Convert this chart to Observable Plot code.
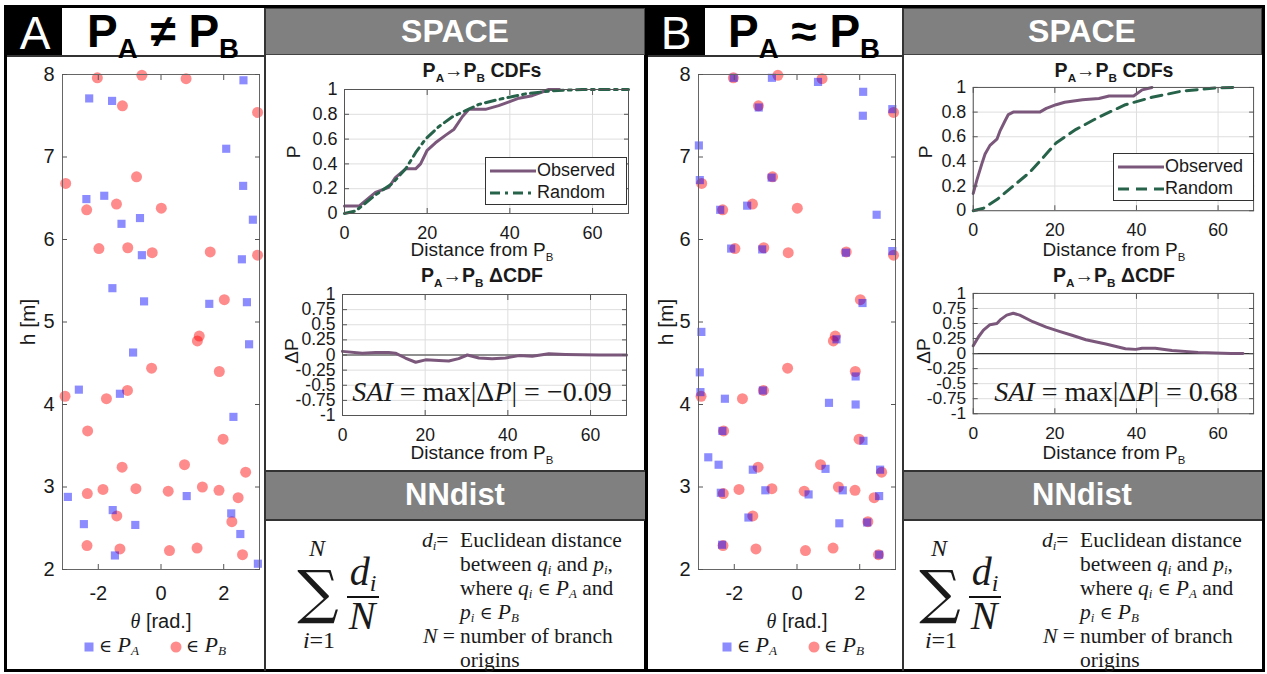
<!DOCTYPE html>
<html><head><meta charset="utf-8">
<script src="https://cdn.jsdelivr.net/npm/d3@7"></script>
<script src="https://cdn.jsdelivr.net/npm/@observablehq/plot@0.6"></script>
<style>
body{margin:0;background:#fff;}
#fig{position:relative;width:1267px;height:674px;overflow:hidden;background:#fff;font-family:"Liberation Sans",Arial,sans-serif;color:#1a1a1a;}
.t{position:absolute;transform:translate(-50%,-50%);white-space:nowrap;line-height:1;}
.l{position:absolute;transform:translate(0,-50%);white-space:nowrap;line-height:1;}
.box{position:absolute;box-sizing:border-box;}
.sb{font-size:0.6em;position:relative;top:0.4em;}
.si{font-size:0.6em;position:relative;top:0.25em;}
.el{font-family:"DejaVu Serif",serif;font-size:0.8em;font-style:normal;}
.serif{font-family:"Liberation Serif","DejaVu Serif",serif;}
.chart{position:absolute;}
.chart svg{overflow:visible;}
</style></head><body><div id="fig"></div>
<script>
// ---------- DATA ----------
// Panel A: P_A (blue squares)
const thetaA_PA = [-2.29,-1.56,2.63,2.08,2.62,-2.38,-1.81,-1.26,-0.67,2.93,-0.61,2.58,-1.55,-0.54,1.54,2.74,2.81,-0.89,-2.62,-1.31,2.31,-2.97,0.82,-1.54,-2.46,-0.82,2.24,2.53,-1.47,3.09];
const hA_PA = [7.71,7.68,7.93,7.10,6.65,6.49,6.53,6.19,6.26,6.24,5.81,5.76,5.41,5.25,5.22,5.24,4.73,4.63,4.18,4.13,3.85,2.88,2.89,2.72,2.55,2.54,2.68,2.43,2.17,2.07];
// P_B (red circles), same in both panels
const theta_PB = [-2.03,-0.61,0.80,-1.23,3.08,-3.04,-0.78,-2.37,-1.42,0.01,-1.98,-1.06,-0.28,1.57,3.08,2.02,1.22,1.16,-0.30,1.86,-3.06,-1.74,-1.07,-2.34,1.98,-1.24,0.75,2.70,-2.35,-1.85,-0.80,0.23,1.32,1.85,2.46,-1.41,2.26,-2.36,-1.31,0.27,1.15,2.60];
const h_PB = [7.96,7.99,7.95,7.62,7.54,6.68,6.76,6.36,6.43,6.38,5.89,5.90,5.84,5.85,5.81,5.27,4.83,4.77,4.44,4.40,4.10,4.07,4.17,3.68,3.58,3.24,3.27,3.18,2.92,2.97,2.98,2.95,3.00,2.96,2.87,2.65,2.58,2.29,2.25,2.23,2.26,2.18];
// Panel B: P_A (blue squares)
const thetaB_PA = [-2.02,-0.80,0.67,2.11,2.10,-1.22,3.04,-3.13,-3.10,-0.81,-2.45,-1.59,2.54,-2.10,-1.11,1.56,3.04,2.09,-3.05,1.26,-3.10,-3.08,-2.30,-1.09,1.02,1.87,1.87,-2.38,2.12,-2.83,-2.50,-1.41,0.91,2.65,-2.43,-1.01,0.37,1.46,2.62,-1.55,1.35,2.24,-2.39,2.62];
const hB_PA = [7.96,7.96,7.91,7.79,7.50,7.60,7.58,7.14,6.72,6.75,6.36,6.41,6.30,5.89,5.88,5.84,5.86,5.23,4.88,4.79,4.39,4.15,4.07,4.17,4.02,4.00,4.34,3.68,3.56,3.36,3.27,3.21,3.22,3.21,2.93,2.96,2.91,2.96,2.89,2.63,2.56,2.57,2.30,2.18];

// CDFs, panel A
const distA_obs = [0,3.5,7.5,10.7,12.3,14.8,17.2,18.4,20,22,24.4,26.5,28.5,30.1,34.1,37.3,39.8,42.2,45.4,47.8,49.4,52];
const cdfA_obs  = [0.06,0.06,0.17,0.21,0.29,0.36,0.36,0.40,0.51,0.57,0.63,0.68,0.78,0.84,0.84,0.87,0.90,0.93,0.95,0.98,1.0,1.0];
const distA_rnd = [0,2.7,7.5,11.5,14.8,17.2,19.6,22.8,26.1,29.3,32.5,37.3,43.8,50.3,57.5,68.7];
const cdfA_rnd  = [0,0.02,0.15,0.24,0.36,0.49,0.60,0.70,0.78,0.83,0.88,0.92,0.965,0.99,1,1];
const distA_d   = [0,4.8,8,11.2,12.8,15.2,17.7,20.1,23.3,25.7,28.1,30.2,33,36.2,39.4,42.7,45.9,49.9,53.9,62,68.7];
const dcdfA     = [0.06,0.03,0.04,0.04,0.03,-0.05,-0.12,-0.08,-0.09,-0.10,-0.06,0.00,-0.05,-0.06,-0.05,-0.01,-0.02,0.02,0.01,0.0,0.0];
// CDFs, panel B
const distB_obs = [0,0.9,2.1,2.9,4.1,5.8,6.6,7.8,8.6,9.8,16.3,17.9,20.3,22.4,26.8,30.8,33.3,39.3,41.4,43.8];
const cdfB_obs  = [0.14,0.25,0.38,0.46,0.53,0.58,0.65,0.73,0.78,0.80,0.80,0.83,0.86,0.88,0.90,0.91,0.93,0.93,0.98,1.0];
const distB_rnd = [0,2.5,5.8,9.8,13.8,17.1,20.3,25.2,30.8,37.3,43.8,51.1,59.2,64.5];
const cdfB_rnd  = [0,0.02,0.09,0.20,0.31,0.43,0.55,0.66,0.76,0.86,0.92,0.97,0.995,1.0];
const distB_d   = [0,1.3,2.5,4.1,5.8,6.6,8.2,9.8,11.4,14.6,17.9,21.1,24.4,27.6,32.5,37.3,39.8,41.4,44.6,48.7,55.1,63.2,66.1];
const dcdfB     = [0.13,0.28,0.39,0.48,0.50,0.56,0.64,0.67,0.64,0.53,0.44,0.37,0.30,0.23,0.16,0.08,0.07,0.09,0.09,0.05,0.02,0.0,0.0];

const thetaTicks = [-2,0,2];
const hTicks = [2,3,4,5,6,7,8];
const distTicks = [0,20,40,60];
const pTicks = [0,0.2,0.4,0.6,0.8,1];
const dpTicks = [-1,-0.75,-0.5,-0.25,0,0.25,0.5,0.75,1];
const sai = {A: "−0.09", B: "0.68"};

// ---------- helpers ----------
const fig = document.getElementById("fig");
const zip = (xs, ys) => xs.map((x, i) => ({x, y: ys[i]}));
const C_OBS = "#7b587b", C_RND = "#27634a";

function add(html, cls, x, y, style = "") {
  const d = document.createElement("div");
  d.className = cls; d.style.left = x + "px"; d.style.top = y + "px";
  d.style.cssText += style; d.innerHTML = html; fig.appendChild(d); return d;
}
function rect(x, y, w, h, style) {
  const d = document.createElement("div");
  d.className = "box";
  d.style.cssText = `left:${x}px;top:${y}px;width:${w}px;height:${h}px;${style}`;
  fig.appendChild(d);
}
function place(svg, x, y) {
  const d = document.createElement("div");
  d.className = "chart"; d.style.left = x + "px"; d.style.top = y + "px";
  d.appendChild(svg); fig.appendChild(d);
}
const fmt = d => String(d);
const none = () => "";
function boxAxes(xt, yt, xpad, ypad) {
  return [
    Plot.axisX({ticks: xt, tickSize: 0, tickPadding: xpad, tickFormat: fmt, label: null}),
    Plot.axisX({ticks: xt, anchor: "bottom", tickSize: -5, tickFormat: none, label: null, stroke: "#555"}),
    Plot.axisX({ticks: xt, anchor: "top", tickSize: -5, tickFormat: none, label: null, stroke: "#555"}),
    Plot.axisY({ticks: yt, tickSize: 0, tickPadding: ypad, tickFormat: fmt, label: null}),
    Plot.axisY({ticks: yt, anchor: "left", tickSize: -5, tickFormat: none, label: null, stroke: "#555"}),
    Plot.axisY({ticks: yt, anchor: "right", tickSize: -5, tickFormat: none, label: null, stroke: "#555"})
  ];
}

function scatter(thA, hA) {
  return Plot.plot({
    width: 243, height: 540, marginLeft: 40, marginRight: 6, marginTop: 10, marginBottom: 35,
    x: {domain: [-Math.PI, Math.PI]}, y: {domain: [2, 8]},
    style: {fontFamily: "Liberation Sans", fontSize: "20px", color: "#1a1a1a", background: "transparent"},
    marks: [
      Plot.dot(zip(theta_PB, h_PB), {x: "x", y: "y", r: 5.5, fill: "#ff0000", fillOpacity: 0.45, stroke: null}),
      Plot.dot(zip(thA, hA), {x: "x", y: "y", r: 4.6, symbol: "square", fill: "#0000ff", fillOpacity: 0.45, stroke: null}),
      Plot.frame({stroke: "#666"}),
      ...boxAxes(thetaTicks, hTicks, 16, 8)
    ]
  });
}

function cdf(dObs, pObs, dRnd, pRnd, dash, w, mr) {
  return Plot.plot({
    width: w, height: 150, marginLeft: 44, marginRight: mr, marginTop: 9, marginBottom: 17,
    x: {domain: [0, 68.7]}, y: {domain: [0, 1]},
    style: {fontFamily: "Liberation Sans", fontSize: "18px", color: "#1a1a1a", background: "transparent"},
    marks: [
      Plot.gridX({ticks: distTicks, stroke: "#dedede", strokeOpacity: 1}),
      Plot.gridY({ticks: pTicks, stroke: "#dedede", strokeOpacity: 1}),
      Plot.line(zip(dObs, pObs), {x: "x", y: "y", stroke: C_OBS, strokeWidth: 3}),
      Plot.line(zip(dRnd, pRnd), {x: "x", y: "y", stroke: C_RND, strokeWidth: 3, strokeDasharray: dash}),
      Plot.frame({stroke: "#555"}),
      ...boxAxes(distTicks, pTicks, 13, 7)
    ]
  });
}

function dcdf(d, v, w, mr) {
  return Plot.plot({
    width: w, height: 150, marginLeft: 44, marginRight: mr, marginTop: 9, marginBottom: 20,
    x: {domain: [0, 68.7]}, y: {domain: [-1, 1]},
    style: {fontFamily: "Liberation Sans", fontSize: "17.5px", color: "#1a1a1a", background: "transparent"},
    marks: [
      Plot.gridX({ticks: distTicks, stroke: "#dedede", strokeOpacity: 1}),
      Plot.gridY({ticks: dpTicks, stroke: "#dedede", strokeOpacity: 1}),
      Plot.ruleY([0], {stroke: "#333", strokeWidth: 1.2}),
      Plot.line(zip(d, v), {x: "x", y: "y", stroke: C_OBS, strokeWidth: 3}),
      Plot.frame({stroke: "#555"}),
      ...boxAxes(distTicks, dpTicks, 13, 7)
    ]
  });
}

// ---------- frame / panels ----------
rect(4, 5, 1261, 667, "border:3px solid #000;");
rect(644, 5, 4, 667, "background:#000;");
// Panel A blocks
rect(7, 8, 55, 47, "background:#000;");
rect(265, 8, 380, 47, "background:#808080;border:1px solid #444;");
rect(265, 470, 380, 51, "background:#808080;border-top:2px solid #333;border-bottom:2px solid #333;");
rect(264, 8, 2, 663, "background:#333;");
rect(7, 55, 258, 1.5, "background:#333;");
// Panel B blocks
rect(648, 8, 57, 47, "background:#000;");
rect(903, 8, 359, 47, "background:#808080;border:1px solid #444;");
rect(903, 470, 359, 51, "background:#808080;border-top:2px solid #333;border-bottom:2px solid #333;");
rect(902, 8, 2, 663, "background:#333;");
rect(648, 55, 255, 1.5, "background:#333;");

// headers
add("A", "t", 35, 33, "color:#fff;font-size:46px;");
add("P<span class='sb'>A</span> ≠ P<span class='sb'>B</span>", "t", 163, 31, "font-size:46px;font-weight:bold;color:#000;");
add("SPACE", "t", 455, 31, "color:#fff;font-size:32px;font-weight:bold;");
add("NNdist", "t", 455, 494, "color:#fff;font-size:31px;font-weight:bold;");
add("B", "t", 676, 33, "color:#fff;font-size:46px;");
add("P<span class='sb'>A</span> ≈ P<span class='sb'>B</span>", "t", 804, 31, "font-size:46px;font-weight:bold;color:#000;");
add("SPACE", "t", 1082, 31, "color:#fff;font-size:32px;font-weight:bold;");
add("NNdist", "t", 1082, 494, "color:#fff;font-size:31px;font-weight:bold;");

// ---------- charts ----------
place(scatter(thetaA_PA, hA_PA), 22, 64);
place(scatter(thetaB_PA, hB_PA), 658, 64);
place(cdf(distA_obs, cdfA_obs, distA_rnd, cdfA_rnd, "10,5,3,5", 340, 12), 300, 80);
place(cdf(distB_obs, cdfB_obs, distB_rnd, cdfB_rnd, "11,7", 340, 14), 929, 78);
place(dcdf(distA_d, dcdfA, 342, 14), 298, 285);
place(dcdf(distB_d, dcdfB, 340, 14), 929, 284);

// ---------- chart texts ----------
function scatterTexts(cx, lx, sqx) {
  add("h [m]", "t", lx, 322, "font-size:21px;transform:translate(-50%,-50%) rotate(-90deg);");
  add("<i class='serif'>θ</i> [rad.]", "t", cx, 621, "font-size:20px;");
  add("", "t", sqx, 647, "width:9px;height:9px;background:#0000ff;opacity:0.45;");
  add("<span class='el'>∈</span> <i>P</i><span class='si'><i>A</i></span>", "l", sqx + 10, 645, "font-size:22px;font-family:'Liberation Serif',serif;");
  add("", "t", sqx + 87, 647, "width:11px;height:11px;border-radius:50%;background:#ff0000;opacity:0.45;");
  add("<span class='el'>∈</span> <i>P</i><span class='si'><i>B</i></span>", "l", sqx + 97, 645, "font-size:22px;font-family:'Liberation Serif',serif;");
}
scatterTexts(161, 27, 89);
scatterTexts(797, 665, 727);

function rightTexts(cx, px, lgx, lgy, lgw, sx, dash, saiText) {
  add("P<span class='sb'>A</span>→P<span class='sb'>B</span> CDFs", "t", cx, 71, "font-size:19.5px;font-weight:bold;");
  add("P", "t", px, 152, "font-size:19px;transform:translate(-50%,-50%) rotate(-90deg);");
  add("Distance from P<span class='sb'>B</span>", "t", cx, 249, "font-size:19px;");
  add("P<span class='sb'>A</span>→P<span class='sb'>B</span> ΔCDF", "t", cx, 276, "font-size:19.5px;font-weight:bold;");
  add("ΔP", "t", px - 2, 351, "font-size:19px;transform:translate(-50%,-50%) rotate(-90deg);");
  add("Distance from P<span class='sb'>B</span>", "t", cx, 452, "font-size:19px;");
  add(`<i>SAI</i> = max|Δ<i>P</i>| = ${saiText}`, "t", sx, 392, "font-size:28px;font-family:'Liberation Serif',serif;");
  // legend
  rect(lgx, lgy, lgw, 48, "background:#fff;border:1px solid #333;");
  add(`<svg width="46" height="6"><line x1="0" y1="3" x2="46" y2="3" stroke="${C_OBS}" stroke-width="3"/></svg>`, "l", lgx + 5, lgy + 14, "line-height:0;");
  add("Observed", "l", lgx + 52, lgy + 13, "font-size:18px;");
  add(`<svg width="46" height="6"><line x1="0" y1="3" x2="46" y2="3" stroke="${C_RND}" stroke-width="3" stroke-dasharray="${dash}"/></svg>`, "l", lgx + 5, lgy + 36, "line-height:0;");
  add("Random", "l", lgx + 52, lgy + 35, "font-size:18px;");
}
rightTexts(482, 293, 485, 157, 142, 482, "10,5,3,5", sai.A);
rightTexts(1114, 925, 1113, 153, 141, 1116, "11,7", sai.B);

function formula(x0, tx) {
  const S = "font-family:'Liberation Serif',serif;";
  add("<i>N</i>", "t", x0 + 18, 548, S + "font-size:24px;");
  add("∑", "t", x0 + 19, 592, "font-family:'DejaVu Serif',serif;font-size:58px;");
  add("<i>i</i>=1", "t", x0 + 20, 640, S + "font-size:24px;");
  add("<i>d<span class='si'>i</span></i>", "t", x0 + 64, 572, S + "font-size:40px;");
  rect(x0 + 48, 596, 32, 2, "background:#111;");
  add("<i>N</i>", "t", x0 + 63, 616, S + "font-size:40px;");
  const st = S + "font-size:21.5px;";
  add("<i>d<span class='si'>i</span></i>=", "l", tx, 541, st);
  add("Euclidean distance", "l", tx + 38, 541, st);
  add("between <i>q<span class='si'>i</span></i> and <i>p<span class='si'>i</span></i>,", "l", tx + 38, 565, st);
  add("where <i>q<span class='si'>i</span></i> <span class='el'>∈</span> <i>P<span class='si'>A</span></i> and", "l", tx + 38, 589, st);
  add("<i>p<span class='si'>i</span></i> <span class='el'>∈</span> <i>P<span class='si'>B</span></i>", "l", tx + 38, 613, st);
  add("<i>N</i> =", "l", tx + 1, 637, st);
  add("number of branch", "l", tx + 38, 637, st);
  add("origins", "l", tx + 38, 661, st);
}
formula(299, 422);
formula(921, 1042);
</script></body></html>
